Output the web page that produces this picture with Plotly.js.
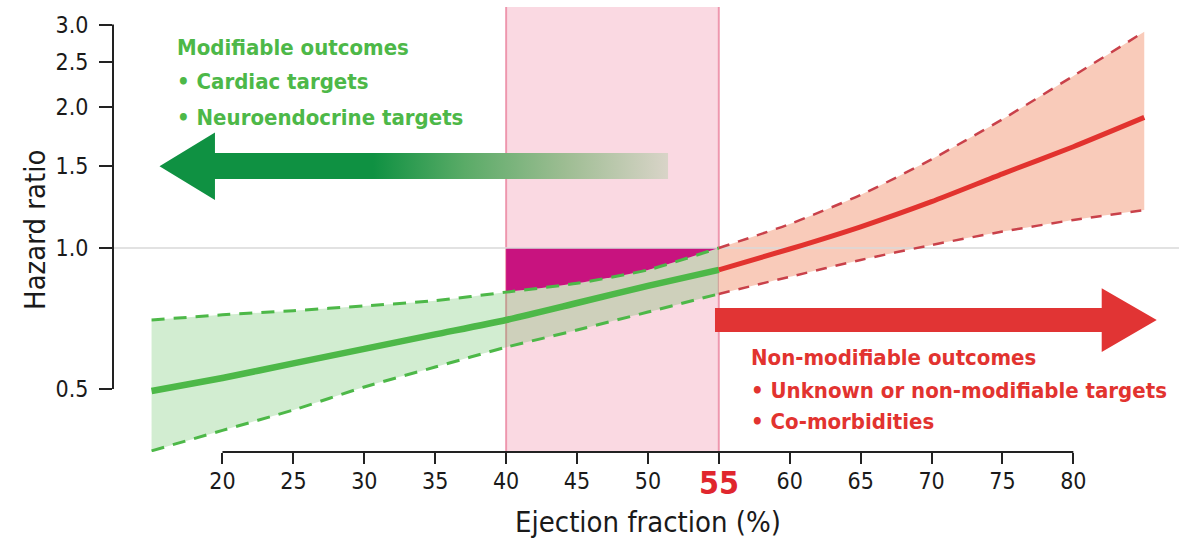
<!DOCTYPE html>
<html>
<head>
<meta charset="utf-8">
<script src="https://cdn.plot.ly/plotly-3.0.1.min.js"></script>
<style>html,body{margin:0;padding:0;background:#fff;}#chart{width:1179px;height:549px;}#chart text{font-stretch:condensed;}</style>
</head>
<body>
<div id="chart"></div>
<script>
// ---- data ----
const efGreen = [15, 20, 25, 30, 35, 40, 45, 50, 55];
const hrGreen = [0.495, 0.528, 0.567, 0.609, 0.654, 0.702, 0.763, 0.830, 0.898];
const hrGreenUpper = [0.702, 0.720, 0.735, 0.752, 0.772, 0.805, 0.841, 0.898, 1.0];
const hrGreenLower = [0.369, 0.408, 0.451, 0.505, 0.557, 0.614, 0.668, 0.730, 0.798];

const efRed = [55, 60, 65, 70, 75, 80, 85];
const hrRed = [0.898, 0.995, 1.11, 1.256, 1.44, 1.645, 1.90];
const hrRedUpper = [1.0, 1.125, 1.298, 1.546, 1.883, 2.33, 2.896];
const hrRedLower = [0.798, 0.868, 0.943, 1.015, 1.084, 1.148, 1.205];

const grayZone = [40, 55];          // EF band
const referenceHR = 1.0;

const xTickVals = [20, 25, 30, 35, 40, 45, 50, 55, 60, 65, 70, 75, 80];
const xTickText = ['20', '25', '30', '35', '40', '45', '50', '', '60', '65', '70', '75', '80'];
const yTickVals = [0.5, 1.0, 1.5, 2.0, 2.5, 3.0];
const yTickText = ['0.5', '1.0', '1.5', '2.0', '2.5', '3.0'];

const greenLabels = ['Modifiable outcomes', '• Cardiac targets', '• Neuroendocrine targets'];
const redLabels = ['Non-modifiable outcomes', '• Unknown or non-modifiable targets', '• Co-morbidities'];
const highlightTick = '55';

// ---- layout geometry / styles ----
const X_RANGE = [12.28, 87.45];
const Y_RANGE = [-0.4355, 0.5145];   // log10 units
const FONT = "'DejaVu Sans Condensed', 'DejaVu Sans', sans-serif";
const GREEN = '#4db848', RED = '#e2332f';
const yFrac = v => (Math.log10(v) - Y_RANGE[0]) / (Y_RANGE[1] - Y_RANGE[0]);

// arrows (decoration geometry, in EF / HR units)
const greenArrow = {tip: 15.56, headBase: 19.47, tail: 51.42, mid: 1.494, shaftTop: 1.595, shaftBot: 1.404, headTop: 1.764, headBot: 1.266};
const redArrow = {tip: 85.88, headBase: 82.0, tail: 54.73, mid: 0.702, shaftTop: 0.745, shaftBot: 0.662, headTop: 0.821, headBot: 0.60};
function arrowPoly(a) {
  return {
    x: [a.tip, a.headBase, a.headBase, a.tail, a.tail, a.headBase, a.headBase, a.tip],
    y: [a.mid, a.headTop, a.shaftTop, a.shaftTop, a.shaftBot, a.shaftBot, a.headBot, a.mid]
  };
}

const inZone = efGreen.map((e, i) => i).filter(i => efGreen[i] >= grayZone[0] && efGreen[i] <= grayZone[1]);
const zoneX = inZone.map(i => efGreen[i]);
const zoneUpper = inZone.map(i => hrGreenUpper[i]);

const noHover = {hoverinfo: 'skip', showlegend: false};
const traces = [
  Object.assign({x: efGreen, y: hrGreenLower, mode: 'lines', line: {width: 0, shape: 'spline', smoothing: 0.6}}, noHover),
  Object.assign({x: efGreen, y: hrGreenUpper, mode: 'lines', fill: 'tonexty', fillcolor: 'rgba(77,184,72,0.25)', line: {width: 0, shape: 'spline', smoothing: 0.6}}, noHover),
  Object.assign({x: efRed, y: hrRedLower, mode: 'lines', line: {width: 0, shape: 'spline', smoothing: 0.6}}, noHover),
  Object.assign({x: efRed, y: hrRedUpper, mode: 'lines', fill: 'tonexty', fillcolor: '#f9cbba', line: {width: 0, shape: 'spline', smoothing: 0.6}}, noHover),
  Object.assign({x: zoneX, y: zoneX.map(() => referenceHR), mode: 'lines', line: {width: 0}}, noHover),
  Object.assign({x: zoneX, y: zoneUpper, mode: 'lines', fill: 'tonexty', fillcolor: '#c8137f', line: {width: 0, shape: 'spline', smoothing: 0.6}}, noHover),
  Object.assign({x: X_RANGE, y: [referenceHR, referenceHR], mode: 'lines', line: {color: '#d8d8d8', width: 1.5}}, noHover),
  Object.assign({x: efGreen, y: hrGreenUpper, mode: 'lines', line: {color: GREEN, width: 3, dash: '13px,9px', shape: 'spline', smoothing: 0.6}}, noHover),
  Object.assign({x: efGreen, y: hrGreenLower, mode: 'lines', line: {color: GREEN, width: 3, dash: '13px,9px', shape: 'spline', smoothing: 0.6}}, noHover),
  Object.assign({x: efRed, y: hrRedUpper, mode: 'lines', line: {color: '#c9414a', width: 2.5, dash: '11px,9px', shape: 'spline', smoothing: 0.6}}, noHover),
  Object.assign({x: efRed, y: hrRedLower, mode: 'lines', line: {color: '#c9414a', width: 2.5, dash: '11px,9px', shape: 'spline', smoothing: 0.6}}, noHover),
  Object.assign({x: efGreen, y: hrGreen, mode: 'lines', line: {color: GREEN, width: 6.5, shape: 'spline', smoothing: 0.6}}, noHover),
  Object.assign({x: efRed, y: hrRed, mode: 'lines', line: {color: RED, width: 5, shape: 'spline', smoothing: 0.6}}, noHover),
  Object.assign(arrowPoly(greenArrow), {mode: 'lines', fill: 'toself', line: {width: 0},
    fillgradient: {type: 'horizontal', colorscale: [[0, '#0f9142'], [0.42, '#0f9142'], [0.6, '#5aab67'], [0.8, '#9ebd93'], [1, '#d9d4c8']]}}, noHover),
  Object.assign(arrowPoly(redArrow), {mode: 'lines', fill: 'toself', fillcolor: '#e13434', line: {width: 0}}, noHover)
];

const px2x = px => (px - 113) / 1066;
const py2y = py => (452 - py) / 445;

const annotations = [];
const gY = [47, 81, 117];
greenLabels.forEach((t, i) => annotations.push({
  xref: 'paper', yref: 'paper', x: px2x(175), y: py2y(gY[i]), xanchor: 'left', yanchor: 'middle',
  text: '<b>' + t + '</b>', showarrow: false, font: {family: FONT, size: 22, color: GREEN}
}));
const rY = [357.5, 390, 421.5];
redLabels.forEach((t, i) => annotations.push({
  xref: 'paper', yref: 'paper', x: px2x(749), y: py2y(rY[i]), xanchor: 'left', yanchor: 'middle',
  text: '<b>' + t + '</b>', showarrow: false, font: {family: FONT, size: 22, color: RED}
}));
annotations.push({xref: 'x', yref: 'paper', x: 55, y: py2y(483), xanchor: 'center', yanchor: 'middle',
  text: '<b>' + highlightTick + '</b>', showarrow: false, font: {family: FONT, size: 32, color: '#e0262e'}});
annotations.push({xref: 'paper', yref: 'paper', x: px2x(648), y: py2y(522), xanchor: 'center', yanchor: 'middle',
  text: 'Ejection fraction (%)', showarrow: false, font: {family: FONT, size: 29, color: '#1a1a1a'}});
annotations.push({xref: 'paper', yref: 'paper', x: px2x(35), y: py2y(230), xanchor: 'center', yanchor: 'middle', textangle: -90,
  text: 'Hazard ratio', showarrow: false, font: {family: FONT, size: 29, color: '#1a1a1a'}});

const shapes = [
  {type: 'rect', xref: 'x', yref: 'paper', x0: grayZone[0], x1: grayZone[1], y0: 0, y1: 1, fillcolor: 'rgba(240,130,160,0.3)', line: {width: 0}, layer: 'below'},
  {type: 'line', xref: 'x', yref: 'paper', x0: grayZone[0], x1: grayZone[0], y0: 0, y1: 1, line: {color: 'rgba(232,120,150,0.7)', width: 2}, layer: 'below'},
  {type: 'line', xref: 'x', yref: 'paper', x0: grayZone[1], x1: grayZone[1], y0: 0, y1: 1, line: {color: 'rgba(232,120,150,0.7)', width: 2}, layer: 'below'},
  {type: 'line', xref: 'x', yref: 'paper', x0: xTickVals[0], x1: xTickVals[xTickVals.length - 1], y0: 0, y1: 0, line: {color: '#222', width: 2}},
  {type: 'line', xref: 'paper', yref: 'paper', x0: 0, x1: 0, y0: yFrac(yTickVals[0]), y1: yFrac(yTickVals[yTickVals.length - 1]), line: {color: '#222', width: 2}}
];

const layout = {
  width: 1179, height: 549,
  margin: {l: 113, r: 0, t: 7, b: 97},
  paper_bgcolor: '#fff', plot_bgcolor: '#fff',
  font: {family: FONT, color: '#1a1a1a'},
  showlegend: false,
  xaxis: {range: X_RANGE, tickvals: xTickVals, ticktext: xTickText, ticks: 'outside', ticklen: 11, tickwidth: 2, tickcolor: '#222',
    showgrid: false, zeroline: false, showline: false, tickfont: {family: FONT, size: 23, color: '#1a1a1a'}, ticklabelstandoff: -3, fixedrange: true},
  yaxis: {type: 'log', range: Y_RANGE, tickvals: yTickVals, ticktext: yTickText, ticks: 'outside', ticklen: 13, tickwidth: 2, tickcolor: '#222',
    showgrid: false, zeroline: false, showline: false, tickfont: {family: FONT, size: 23, color: '#1a1a1a'}, ticklabelstandoff: 6, fixedrange: true},
  shapes: shapes,
  annotations: annotations
};

Plotly.newPlot('chart', traces, layout, {displayModeBar: false, staticPlot: true});
</script>
</body>
</html>
